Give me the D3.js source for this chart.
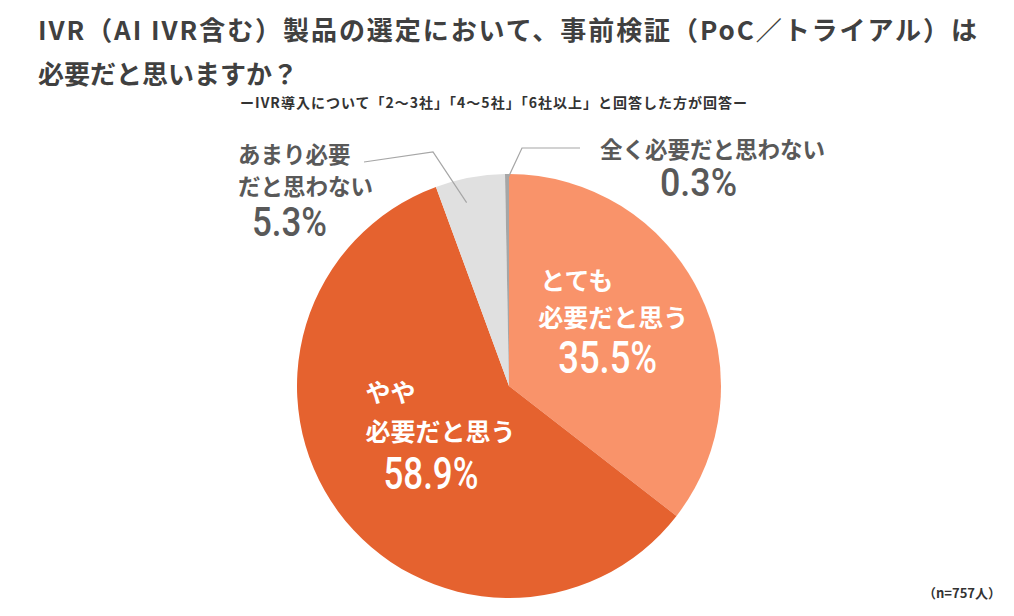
<!DOCTYPE html>
<html>
<head>
<meta charset="utf-8">
<script src="https://cdn.jsdelivr.net/npm/d3@7"></script>
<style>
body{margin:0;background:#fff;}
svg{display:block;}
</style>
</head>
<body>
<div id="chart"></div>
<script>
const w = 1014;
const h = 616;

// data
const categories = ["とても必要だと思う", "やや必要だと思う", "あまり必要だと思わない", "全く必要だと思わない"];
const values = [35.5, 58.9, 5.3, 0.3];
const labelLines = [["とても", "必要だと思う"], ["やや", "必要だと思う"], ["あまり必要", "だと思わない"], ["全く必要だと思わない"]];
const titleLines = ["IVR（AI IVR含む）製品の選定において、事前検証（PoC／トライアル）は", "必要だと思いますか？"];
const subTitle = "ーIVR導入について「2〜3社」「4〜5社」「6社以上」と回答した方が回答ー";
const note = "（n=757人）";

const colors = ["#F9936A", "#E5622F", "#E0E0E0", "#A6A6A6"];
const textGray = "#595959";
const jp = "'Noto Sans CJK JP', 'Noto Sans', sans-serif";
const num = "Roboto, 'Noto Sans', sans-serif";

const cx = 509, cy = 386, r = 212;

const svg = d3.select("#chart").append("svg")
  .attr("width", w).attr("height", h);

//Title
svg.append("text")
  .attr("x", 38).attr("y", 40)
  .attr("font-family", jp).attr("font-size", 26).attr("font-weight", 700)
  .attr("fill", "#404040")
  .attr("textLength", 939).attr("lengthAdjust", "spacing")
  .text(titleLines[0]);
svg.append("text")
  .attr("x", 38).attr("y", 84)
  .attr("font-family", jp).attr("font-size", 26).attr("font-weight", 700)
  .attr("fill", "#404040")
  .text(titleLines[1]);
svg.append("text")
  .attr("x", 240).attr("y", 108)
  .attr("font-family", jp).attr("font-size", 14).attr("font-weight", 700)
  .attr("fill", "#333")
  .attr("textLength", 507).attr("lengthAdjust", "spacing")
  .text(subTitle);

//Pie
const pie = d3.pie().sort(null).value(d => d);
const arcs = pie(values);
const arc = d3.arc().innerRadius(0).outerRadius(r);

const g = svg.append("g").attr("transform", `translate(${cx},${cy})`);
g.selectAll("path.slice")
  .data(arcs)
  .enter()
  .append("path")
  .attr("class", "slice")
  .attr("d", arc)
  .attr("fill", (d, i) => colors[i]);

//Inside labels (offsets from centroid)
const inside = [
  {l1: [-64, -60], l2: [-66, -23], pct: [-46, 34], pw: 99, fs: 44},
  {l1: [-58, -58], l2: [-58, -19], pct: [-40, 40], pw: 95, fs: 44}
];
inside.forEach((o, i) => {
  const [x0, y0] = arc.centroid(arcs[i]);
  const lab = g.append("g").attr("fill", "#fff");
  labelLines[i].forEach((t, j) => {
    const p = j === 0 ? o.l1 : o.l2;
    lab.append("text")
      .attr("x", x0 + p[0]).attr("y", y0 + p[1])
      .attr("dominant-baseline", "central")
      .attr("font-family", jp).attr("font-size", 25).attr("font-weight", 700)
      .text(t);
  });
  lab.append("text")
    .attr("x", x0 + o.pct[0]).attr("y", y0 + o.pct[1])
    .attr("font-family", num).attr("font-size", o.fs).attr("font-weight", 500)
    .attr("textLength", o.pw).attr("lengthAdjust", "spacingAndGlyphs")
    .text(d3.format(".1f")(values[i]) + "%");
});

//Outside labels with leader lines
const lineGen = d3.line();
// gray slice (index 2)
const a2 = (arcs[2].startAngle + arcs[2].endAngle) / 2;
const p2 = [cx + r * 0.88 * Math.sin(a2) - 8, cy - r * 0.88 * Math.cos(a2)];
svg.append("path")
  .attr("d", lineGen([p2, [433, 152], [364, 162]]))
  .attr("fill", "none").attr("stroke", "#A6A6A6").attr("stroke-width", 1.2);
// thin slice (index 3)
const a3 = (arcs[3].startAngle + arcs[3].endAngle) / 2;
const p3 = [cx + (r - 6) * Math.sin(a3), cy - (r - 6) * Math.cos(a3)];
svg.append("path")
  .attr("d", lineGen([p3, [522, 148], [580, 148]]))
  .attr("fill", "none").attr("stroke", "#A6A6A6").attr("stroke-width", 1.2);

const outside = [
  {i: 2, lines: [[238, 152.5], [238, 185]], pct: [252, 236], pw: 75, fs: 40},
  {i: 3, lines: [[600, 147.5]], pct: [660, 196], pw: 77, fs: 38}
];
outside.forEach(o => {
  labelLines[o.i].forEach((t, j) => {
    svg.append("text")
      .attr("x", o.lines[j][0]).attr("y", o.lines[j][1])
      .attr("dominant-baseline", "central")
      .attr("font-family", jp).attr("font-size", 22.5).attr("font-weight", 700)
      .attr("fill", textGray)
      .text(t);
  });
  svg.append("text")
    .attr("x", o.pct[0]).attr("y", o.pct[1])
    .attr("font-family", num).attr("font-size", o.fs).attr("font-weight", 500)
    .attr("fill", textGray)
    .attr("textLength", o.pw).attr("lengthAdjust", "spacingAndGlyphs")
    .text(d3.format(".1f")(values[o.i]) + "%");
});

//Note
svg.append("text")
  .attr("x", 1001).attr("y", 598)
  .attr("text-anchor", "end")
  .attr("font-family", jp).attr("font-size", 13).attr("font-weight", 700)
  .attr("fill", "#333")
  .text(note);
</script>
</body>
</html>
